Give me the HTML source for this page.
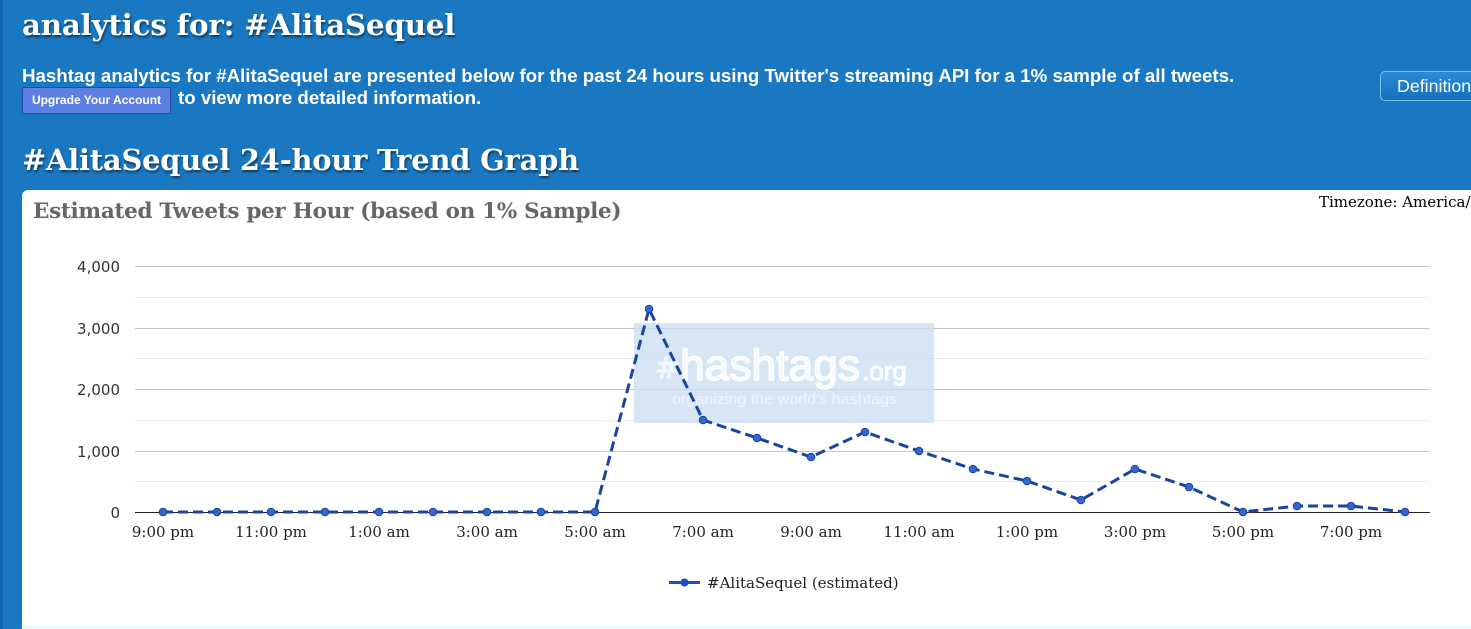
<!DOCTYPE html>
<html><head><meta charset="utf-8"><style>
html,body{margin:0;padding:0;}
body{width:1471px;height:629px;overflow:hidden;background:#1a78c2;position:relative;font-family:"Liberation Sans",sans-serif;}
.lstrip{position:absolute;left:0;top:0;width:3px;height:629px;background:#1569b0;}
.h1{position:absolute;left:22px;top:8px;line-height:34px;font-family:"DejaVu Serif",serif;font-weight:bold;font-size:29.3px;color:#fff;text-shadow:1px 2px 2px rgba(0,0,0,0.55);white-space:nowrap;letter-spacing:-0.2px;}
.h2{position:absolute;left:22px;top:143px;line-height:34px;font-family:"DejaVu Serif",serif;font-weight:bold;font-size:28.9px;color:#fff;text-shadow:1px 2px 2px rgba(0,0,0,0.55);white-space:nowrap;letter-spacing:-0.2px;}
.p1{position:absolute;left:22px;top:65px;font-weight:bold;font-size:18.7px;color:#fff;white-space:nowrap;}
.p2{position:absolute;left:178px;top:87px;font-weight:bold;font-size:18.7px;color:#fff;white-space:nowrap;}
.btn{position:absolute;left:22px;top:87px;width:149px;height:27px;background:#5b7fe3;border:1px solid #2a47a8;border-radius:2px;color:#fff;font-weight:bold;font-size:12px;line-height:25px;text-align:center;box-sizing:border-box;}
.def{position:absolute;left:1380px;top:71px;width:91px;height:30px;overflow:hidden;background:linear-gradient(#2a8ad6,#1670ba);border:1px solid #7cc0f0;border-right:none;border-radius:5px 0 0 5px;color:#fff;font-size:17.8px;line-height:28px;padding-left:16px;box-sizing:border-box;white-space:nowrap;}
.card{position:absolute;left:22px;top:190px;width:1449px;height:439px;background:#fff;border-radius:6px 0 0 0;}
.cardbot{position:absolute;left:22px;top:625px;width:1449px;height:4px;background:#eefcff;}
.ctitle{position:absolute;left:33px;top:199px;font-family:"DejaVu Serif",serif;font-weight:bold;font-size:21.5px;color:#666;white-space:nowrap;letter-spacing:-0.3px;}
.tzbox{position:absolute;left:1319px;top:193px;width:152px;height:22px;overflow:hidden;}
.tz{font-family:"DejaVu Serif",serif;font-size:15px;color:#000;white-space:nowrap;}
svg{position:absolute;left:0;top:0;}
</style></head><body>
<div class="lstrip"></div>
<div class="h1">analytics for: #AlitaSequel</div>
<div class="p1">Hashtag analytics for #AlitaSequel are presented below for the past 24 hours using Twitter's streaming API for a 1% sample of all tweets.</div>
<div class="btn">Upgrade Your Account</div>
<div class="p2">to view more detailed information.</div>
<div class="def">Definitions</div>
<div class="h2">#AlitaSequel 24-hour Trend Graph</div>
<div class="card"></div>
<div class="cardbot"></div>
<div class="ctitle">Estimated Tweets per Hour (based on 1% Sample)</div>
<div class="tzbox"><div class="tz">Timezone: America/New_York</div></div>
<svg width="1471" height="629" viewBox="0 0 1471 629">
<g stroke="#ebebeb" stroke-width="1">
<line x1="135" y1="297.5" x2="1430" y2="297.5"/>
<line x1="135" y1="358.5" x2="1430" y2="358.5"/>
<line x1="135" y1="420.5" x2="1430" y2="420.5"/>
<line x1="135" y1="481.5" x2="1430" y2="481.5"/>
</g>
<g stroke="#c6c6c6" stroke-width="1">
<line x1="135" y1="266.5" x2="1430" y2="266.5"/>
<line x1="135" y1="328.5" x2="1430" y2="328.5"/>
<line x1="135" y1="389.5" x2="1430" y2="389.5"/>
<line x1="135" y1="451.5" x2="1430" y2="451.5"/>
</g>
<line x1="135" y1="512.5" x2="1430" y2="512.5" stroke="#222" stroke-width="1"/>
<g font-family="DejaVu Sans, sans-serif" font-size="15" fill="#333" text-anchor="end">
<text x="120" y="272">4,000</text>
<text x="120" y="334">3,000</text>
<text x="120" y="395">2,000</text>
<text x="120" y="457">1,000</text>
<text x="120" y="518">0</text>
</g>
<g font-family="DejaVu Serif, serif" font-size="15" fill="#222" text-anchor="middle">
<text x="163" y="537">9:00 pm</text>
<text x="271" y="537">11:00 pm</text>
<text x="379" y="537">1:00 am</text>
<text x="487" y="537">3:00 am</text>
<text x="595" y="537">5:00 am</text>
<text x="703" y="537">7:00 am</text>
<text x="811" y="537">9:00 am</text>
<text x="919" y="537">11:00 am</text>
<text x="1027" y="537">1:00 pm</text>
<text x="1135" y="537">3:00 pm</text>
<text x="1243" y="537">5:00 pm</text>
<text x="1351" y="537">7:00 pm</text>
</g>
<rect x="634" y="323" width="300" height="100" fill="#c9ddf1" opacity="0.75"/>
<text x="655" y="378" font-family="DejaVu Sans, sans-serif" font-size="30" font-weight="bold" fill="#f4f8fc" stroke="#e8f0f8" stroke-width="1">#</text>
<text x="680" y="380" font-family="Liberation Sans, sans-serif" font-size="44" fill="#f6f9fd" stroke="#ffffff" stroke-width="1.5" textLength="180" lengthAdjust="spacingAndGlyphs">hashtags</text>
<text x="862" y="380" font-family="Liberation Sans, sans-serif" font-size="26" fill="#f6f9fd" stroke="#ffffff" stroke-width="1">.org</text>
<text x="672" y="404" font-family="Liberation Sans, sans-serif" font-size="14.5" fill="#eef4fb" textLength="225" lengthAdjust="spacingAndGlyphs">organizing the world's hashtags</text>
<polyline fill="none" stroke="#1a43a3" stroke-width="3" stroke-dasharray="10,5" points="163,512 217,512 271,512 325,512 379,512 433,512 487,512 541,512 595,512 649,309 703,420 757,438 811,457 865,432 919,451 973,469 1027,481 1081,500 1135,469 1189,487 1243,512 1297,506 1351,506 1405,512"/>
<g fill="#3566cc" stroke="#1a43a3" stroke-width="1">
<circle cx="163" cy="512" r="3.8"/><circle cx="217" cy="512" r="3.8"/><circle cx="271" cy="512" r="3.8"/><circle cx="325" cy="512" r="3.8"/><circle cx="379" cy="512" r="3.8"/><circle cx="433" cy="512" r="3.8"/><circle cx="487" cy="512" r="3.8"/><circle cx="541" cy="512" r="3.8"/><circle cx="595" cy="512" r="3.8"/><circle cx="649" cy="309" r="3.8"/><circle cx="703" cy="420" r="3.8"/><circle cx="757" cy="438" r="3.8"/><circle cx="811" cy="457" r="3.8"/><circle cx="865" cy="432" r="3.8"/><circle cx="919" cy="451" r="3.8"/><circle cx="973" cy="469" r="3.8"/><circle cx="1027" cy="481" r="3.8"/><circle cx="1081" cy="500" r="3.8"/><circle cx="1135" cy="469" r="3.8"/><circle cx="1189" cy="487" r="3.8"/><circle cx="1243" cy="512" r="3.8"/><circle cx="1297" cy="506" r="3.8"/><circle cx="1351" cy="506" r="3.8"/><circle cx="1405" cy="512" r="3.8"/>
</g>
<line x1="669" y1="582.5" x2="700" y2="582.5" stroke="#1a4fc4" stroke-width="3"/>
<circle cx="684.5" cy="582.5" r="4" fill="#1a4fc4"/>
<text x="707" y="588" font-family="DejaVu Serif, serif" font-size="15" fill="#222">#AlitaSequel (estimated)</text>
</svg>
</body></html>
